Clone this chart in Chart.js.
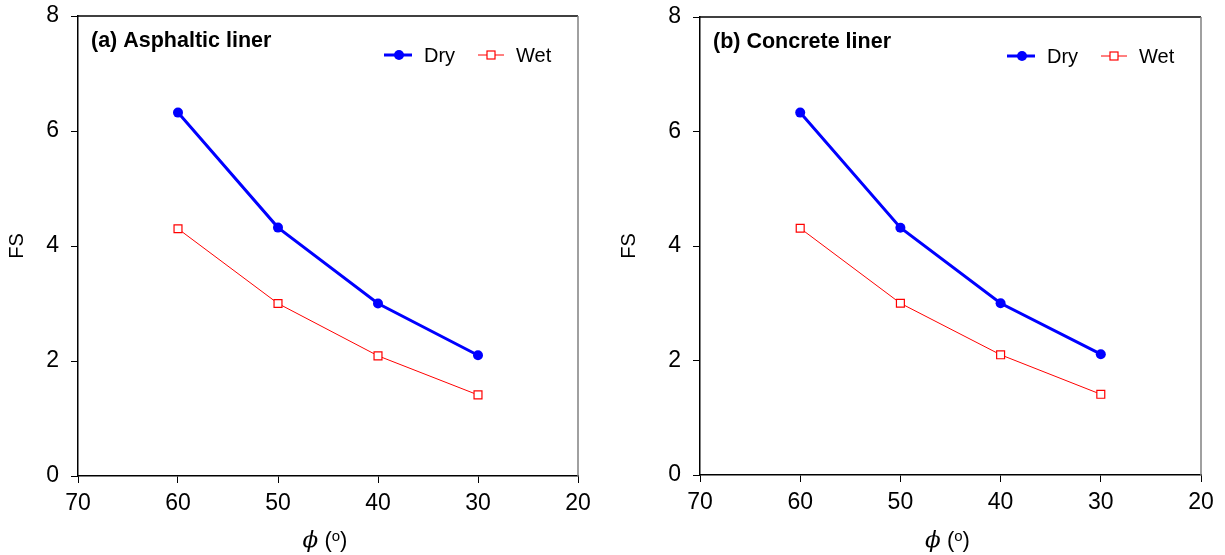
<!DOCTYPE html>
<html>
<head>
<meta charset="utf-8">
<script src="https://cdn.jsdelivr.net/npm/chart.js@4"></script>
<style>
  body { margin: 0; background: #fff; }
  canvas { position: absolute; top: 0; }
</style>
</head>
<body>
<canvas id="chartA" width="612" height="555" style="left:0px"></canvas>
<canvas id="chartB" width="613" height="555" style="left:612px"></canvas>
<script>
// dati
const phi = [60, 50, 40, 30];
const asphalticDry = [6.32, 4.32, 3.0, 2.1];
const asphalticWet = [4.3, 3.0, 2.09, 1.41];
const concreteDry = [6.33, 4.32, 3.0, 2.11];
const concreteWet = [4.31, 3.0, 2.1, 1.41];
const xTicks = [70, 60, 50, 40, 30, 20];
const yTicks = [0, 2, 4, 6, 8];
const seriesNames = ['Dry', 'Wet'];

const FONT = "'Liberation Sans', Arial, sans-serif";

// plugin per cornice, etichetta pannello, legenda e titolo asse x
const decorPlugin = {
    id: 'decor',
    afterDraw(chart, args, opts) {
        const ctx = chart.ctx;
        const a = chart.chartArea;
        ctx.save();
        // bordo superiore e destro
        ctx.lineWidth = 1.5;
        ctx.strokeStyle = '#000';
        ctx.beginPath();
        ctx.moveTo(a.left, a.top);
        ctx.lineTo(a.right, a.top);
        ctx.stroke();
        ctx.strokeStyle = '#808080';
        ctx.beginPath();
        ctx.moveTo(a.right, a.top);
        ctx.lineTo(a.right, a.bottom);
        ctx.stroke();

        // etichetta del pannello
        ctx.fillStyle = '#000';
        ctx.font = 'bold 21.5px ' + FONT;
        ctx.textAlign = 'left';
        ctx.textBaseline = 'middle';
        ctx.fillText(opts.label, a.left + 13, a.top + 25);

        // legenda
        const ly = a.top + 39;
        const ds = chart.data.datasets;
        ctx.font = '20px ' + FONT;
        // Dry
        let x0 = a.right - 194;
        ctx.strokeStyle = ds[0].borderColor;
        ctx.lineWidth = ds[0].borderWidth;
        ctx.beginPath();
        ctx.moveTo(x0, ly);
        ctx.lineTo(x0 + 28, ly);
        ctx.stroke();
        ctx.fillStyle = ds[0].pointBackgroundColor;
        ctx.beginPath();
        ctx.arc(x0 + 15, ly, 5, 0, Math.PI * 2);
        ctx.fill();
        ctx.fillStyle = '#000';
        ctx.fillText(ds[0].label, a.right - 154, ly + 1);
        // Wet
        x0 = a.right - 100;
        ctx.strokeStyle = ds[1].borderColor;
        ctx.lineWidth = ds[1].borderWidth;
        ctx.beginPath();
        ctx.moveTo(x0, ly);
        ctx.lineTo(x0 + 26, ly);
        ctx.stroke();
        ctx.fillStyle = '#fff';
        ctx.lineWidth = ds[1].pointBorderWidth;
        ctx.fillRect(x0 + 9, ly - 4, 8, 8);
        ctx.strokeRect(x0 + 9, ly - 4, 8, 8);
        ctx.fillStyle = '#000';
        ctx.fillText(ds[1].label, a.right - 62, ly + 1);

        // titolo asse x: phi corsivo con (o) in apice
        const cx = (a.left + a.right) / 2 - 3;
        const ty = 541;
        ctx.font = 'italic 23px DejaVu Serif, serif';
        const wPhi = ctx.measureText('ϕ').width;
        ctx.font = '22px ' + FONT;
        const wOpen = ctx.measureText(' (').width;
        const wClose = ctx.measureText(')').width;
        ctx.font = '15px ' + FONT;
        const wO = ctx.measureText('o').width;
        let tx = cx - (wPhi + wOpen + wO + wClose) / 2;
        ctx.font = 'italic 23px DejaVu Serif, serif';
        ctx.fillText('ϕ', tx, ty);
        tx += wPhi;
        ctx.font = '22px ' + FONT;
        ctx.fillText(' (', tx, ty);
        tx += wOpen;
        ctx.font = '15px ' + FONT;
        ctx.fillText('o', tx, ty - 4);
        tx += wO;
        ctx.font = '22px ' + FONT;
        ctx.fillText(')', tx, ty);
        ctx.restore();
    }
};

function creaPannello(canvasId, label, dry, wet, layout) {
    const ctx = document.getElementById(canvasId).getContext('2d');
    return new Chart(ctx, {
        type: 'line',
        data: {
            datasets: [{
                label: seriesNames[0],
                data: phi.map((p, i) => ({ x: p, y: dry[i] })),
                borderColor: '#0000ff',
                borderWidth: 3,
                pointRadius: 5,
                pointBackgroundColor: '#0000ff',
                pointBorderWidth: 0,
                pointStyle: 'circle'
            }, {
                label: seriesNames[1],
                data: phi.map((p, i) => ({ x: p, y: wet[i] })),
                borderColor: '#ff0000',
                borderWidth: 1,
                pointRadius: 5.6,
                pointStyle: 'rect',
                pointBackgroundColor: '#ffffff',
                pointBorderColor: '#ff0000',
                pointBorderWidth: 1.2
            }]
        },
        options: {
            responsive: false,
            animation: false,
            devicePixelRatio: 1,
            layout: {
                padding: { left: 0, right: layout.right, top: layout.top, bottom: 0 }
            },
            plugins: {
                legend: { display: false },
                tooltip: { enabled: false },
                decor: { label: label }
            },
            scales: {
                x: {
                    type: 'linear',
                    reverse: true,
                    min: xTicks[xTicks.length - 1],
                    max: xTicks[0],
                    afterFit: s => { s.height = layout.xHeight; s.paddingLeft = 0; s.paddingRight = 0; },
                    afterBuildTicks: s => { s.ticks = xTicks.map(v => ({ value: v })); },
                    border: { display: true, color: '#000', width: 1.5 },
                    grid: { display: true, drawOnChartArea: false, drawTicks: true, tickLength: 7, color: '#000', lineWidth: 1 },
                    ticks: { color: '#000', font: { family: FONT, size: 23 }, padding: 7, maxRotation: 0 }
                },
                y: {
                    min: yTicks[0],
                    max: yTicks[yTicks.length - 1],
                    afterFit: s => { s.width = layout.yWidth; s.paddingTop = 0; s.paddingBottom = 0; },
                    afterBuildTicks: s => { s.ticks = yTicks.map(v => ({ value: v })); },
                    border: { display: true, color: '#000', width: 1.5 },
                    grid: { display: true, drawOnChartArea: false, drawTicks: true, tickLength: 7, color: '#000', lineWidth: 1 },
                    ticks: { color: '#000', font: { family: FONT, size: 23 }, padding: 12 },
                    title: {
                        display: true,
                        text: 'FS',
                        color: '#000',
                        font: { family: FONT, size: 20 },
                        padding: { top: 5, bottom: 0 }
                    }
                }
            }
        },
        plugins: [decorPlugin]
    });
}

creaPannello('chartA', '(a) Asphaltic liner', asphalticDry, asphalticWet,
    { yWidth: 78, xHeight: 79, top: 16, right: 34 });
creaPannello('chartB', '(b) Concrete liner', concreteDry, concreteWet,
    { yWidth: 88, xHeight: 80, top: 17, right: 24 });
</script>
</body>
</html>
